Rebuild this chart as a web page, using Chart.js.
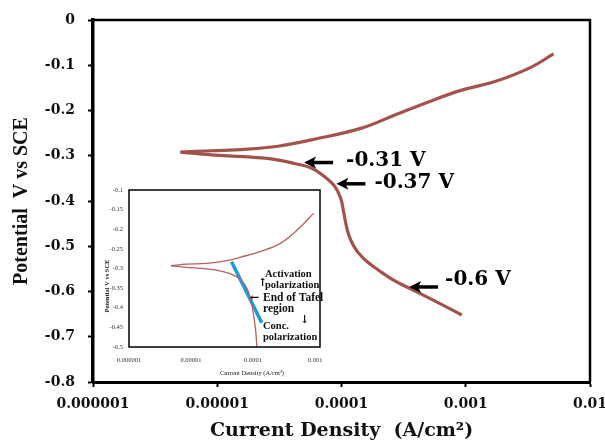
<!DOCTYPE html>
<html>
<head>
<meta charset="utf-8">
<script src="https://cdn.jsdelivr.net/npm/chart.js@4.4.1/dist/chart.umd.min.js"></script>
<style>
  html, body { margin: 0; padding: 0; background: #fff; }
  #wrap { position: relative; width: 605px; height: 441px; }
  #main { position: absolute; left: 0; top: 0; }
  #inset { position: absolute; left: 95px; top: 183px; }
</style>
</head>
<body>
<div id="wrap">
  <canvas id="main" width="605" height="441" style="width:605px;height:441px"></canvas>
  <canvas id="inset" width="240" height="200" style="width:240px;height:200px"></canvas>
</div>
<script>
// Main polarization curve (A/cm2, V vs SCE)
// anodic branch, starting at the corrosion potential tip
const anodicCurrent = [5.06e-6, 8.95e-6, 1.66e-5, 3.09e-5, 5.73e-5, 1.45e-4, 2.69e-4, 5.00e-4, 9.29e-4, 1.72e-3, 3.21e-3, 5.09e-3];
const anodicPotential = [-0.292, -0.289, -0.286, -0.279, -0.265, -0.239, -0.210, -0.181, -0.155, -0.136, -0.107, -0.075];
// cathodic branch, starting at the same tip
const cathodicCurrent = [5.06e-6, 8.95e-6, 1.65e-5, 2.72e-5, 4.18e-5, 5.73e-5, 7.29e-5, 8.79e-5, 9.82e-5, 1.04e-4, 1.09e-4, 1.15e-4, 1.24e-4, 1.37e-4, 1.62e-4, 1.99e-4, 2.62e-4, 3.47e-4, 5.83e-4, 9.29e-4];
const cathodicPotential = [-0.292, -0.298, -0.302, -0.307, -0.317, -0.327, -0.346, -0.367, -0.393, -0.424, -0.453, -0.477, -0.497, -0.515, -0.535, -0.553, -0.575, -0.592, -0.623, -0.652];

// arrows on the main curve
const markCurrent = [5.0e-5, 9.1e-5, 3.5e-4];
const markPotential = [-0.315, -0.362, -0.59];
const markLabels = ['-0.31 V', '-0.37 V', '-0.6 V'];

const xTicks = [1e-6, 1e-5, 1e-4, 1e-3, 1e-2];
const xTickLabels = ['0.000001', '0.00001', '0.0001', '0.001', '0.01'];

// Inset curve
const insetAnodicCurrent = [4.76e-6, 8.36e-6, 1.77e-5, 3.73e-5, 6.15e-5, 1.30e-4, 2.75e-4, 5.13e-4, 9.55e-4];
const insetAnodicPotential = [-0.293, -0.289, -0.287, -0.280, -0.2715, -0.257, -0.236, -0.202, -0.159];
const insetCathodicCurrent = [4.76e-6, 8.36e-6, 1.77e-5, 3.29e-5, 5.43e-5, 7.41e-5, 8.93e-5, 1.01e-4, 1.10e-4, 1.15e-4];
const insetCathodicPotential = [-0.293, -0.297, -0.301, -0.308, -0.321, -0.342, -0.372, -0.414, -0.457, -0.499];
const tafelCurrent = [4.5e-5, 1.38e-4];
const tafelPotential = [-0.283, -0.438];

const insetXTicks = [1e-6, 1e-5, 1e-4, 1e-3];
const insetXTickLabels = ['0.000001', '0.00001', '0.0001', '0.001'];

const pts = (xs, ys) => xs.map((x, i) => ({ x, y: ys[i] }));

const SERIF = '"DejaVu Serif", serif';
const TIMES = '"Liberation Serif", "Times New Roman", serif';

function branch(data, color, width) {
  return {
    data, borderColor: color, borderWidth: width, pointRadius: 0,
    tension: 0.4, fill: false
  };
}

function fixBox(w, h) {
  return (s) => {
    if (w != null) s.width = w;
    if (h != null) s.height = h;
    s.paddingLeft = s.paddingRight = s.paddingTop = s.paddingBottom = 0;
  };
}

function drawArrow(ctx, x, y, len) {
  ctx.beginPath();
  ctx.moveTo(x + 8, y);
  ctx.lineTo(x + len, y);
  ctx.lineWidth = 3.5;
  ctx.stroke();
  ctx.beginPath();
  ctx.moveTo(x, y);
  ctx.lineTo(x + 12, y - 6);
  ctx.lineTo(x + 9, y);
  ctx.lineTo(x + 12, y + 6);
  ctx.closePath();
  ctx.fill();
}

const mainExtras = {
  id: 'mainExtras',
  afterDraw(chart) {
    const { ctx, chartArea: a, scales } = chart;
    ctx.save();
    ctx.strokeStyle = '#000';
    ctx.lineWidth = 2.5;
    ctx.beginPath();
    ctx.moveTo(a.left, a.top);
    ctx.lineTo(a.right, a.top);
    ctx.lineTo(a.right, a.bottom);
    ctx.stroke();

    ctx.fillStyle = '#000';
    ctx.font = 'bold 20px ' + SERIF;
    ctx.textBaseline = 'middle';
    ctx.textAlign = 'left';
    const dy = [-2, -1, -7];
    const gap = [13, 9, 7];
    markLabels.forEach((t, i) => {
      const x = scales.x.getPixelForValue(markCurrent[i]);
      const y = scales.y.getPixelForValue(markPotential[i]);
      drawArrow(ctx, x, y, 29);
      ctx.fillText(t, x + 29 + gap[i], y + dy[i]);
    });
    ctx.restore();
  }
};

const anodic = pts(anodicCurrent, anodicPotential);
const cathodic = pts(cathodicCurrent, cathodicPotential);

new Chart(document.getElementById('main'), {
  type: 'line',
  data: {
    datasets: [
      branch(anodic, '#a3534e', 3.2),
      branch(cathodic, '#a3534e', 3.2),
      branch(anodic, '#dba6a1', 1),
      branch(cathodic, '#dba6a1', 1)
    ]
  },
  options: {
    responsive: false,
    animation: false,
    events: [],
    layout: { padding: { left: 0, top: 20, right: 15, bottom: 0 } },
    plugins: { legend: { display: false }, tooltip: { enabled: false } },
    scales: {
      x: {
        type: 'logarithmic',
        min: 1e-6,
        max: 1e-2,
        afterBuildTicks: (s) => { s.ticks = xTicks.map((v) => ({ value: v })); },
        afterFit: fixBox(null, 59),
        grid: { display: true, drawOnChartArea: false, drawTicks: true, tickLength: 5, tickWidth: 2, tickColor: '#000' },
        border: { display: true, color: '#000', width: 3 },
        ticks: {
          autoSkip: false, maxRotation: 0, padding: 9, color: '#111',
          font: { family: SERIF, weight: 'bold', size: 14 },
          callback: (v, i) => xTickLabels[i]
        },
        title: {
          display: true, text: 'Current Density  (A/cm²)', color: '#111',
          font: { family: SERIF, weight: 'bold', size: 19, lineHeight: 1 },
          padding: { top: 0, bottom: 0 }
        }
      },
      y: {
        min: -0.8,
        max: 0,
        afterFit: fixBox(93, null),
        grid: { display: true, drawOnChartArea: false, drawTicks: true, tickLength: 5, tickWidth: 2, tickColor: '#000' },
        border: { display: true, color: '#000', width: 3.5 },
        ticks: {
          stepSize: 0.1, padding: 13, color: '#111',
          font: { family: SERIF, weight: 'bold', size: 14 },
          callback: (v) => (Math.abs(v) < 1e-9 ? '0' : v.toFixed(1))
        },
        title: {
          display: true, text: 'Potential  V vs SCE', color: '#111',
          font: { family: TIMES, weight: 'bold', size: 20, lineHeight: 1 },
          padding: { top: 12, bottom: 0 }
        }
      }
    }
  },
  plugins: [mainExtras]
});

const insetExtras = {
  id: 'insetExtras',
  afterDraw(chart) {
    const { ctx, chartArea: a } = chart;
    ctx.save();
    ctx.strokeStyle = '#000';
    ctx.lineWidth = 1.5;
    ctx.strokeRect(a.left, a.top, a.right - a.left, a.bottom - a.top);

    ctx.fillStyle = '#222';
    ctx.textBaseline = 'middle';
    ctx.textAlign = 'center';
    ctx.font = '6.5px ' + TIMES;
    ctx.fillText('Current Density (A/cm²)', a.left + 123, a.bottom + 26);
    ctx.save();
    ctx.translate(a.left - 22, a.top + 96);
    ctx.rotate(-Math.PI / 2);
    ctx.font = 'bold 6.5px ' + TIMES;
    ctx.fillText('Potential V vs SCE', 0, 0);
    ctx.restore();

    ctx.fillStyle = '#111';
    ctx.textAlign = 'left';
    const L = a.left;
    const T = a.top;
    ctx.font = 'bold 10.5px ' + TIMES;
    ctx.fillText('Activation', L + 136, T + 84);
    ctx.fillText('polarization', L + 136, T + 95);
    ctx.font = 'bold 11.5px ' + TIMES;
    ctx.fillText('End of Tafel', L + 134, T + 108);
    ctx.fillText('region', L + 134, T + 119);
    ctx.font = 'bold 10.5px ' + TIMES;
    ctx.fillText('Conc.', L + 134, T + 136);
    ctx.fillText('polarization', L + 134, T + 147);
    ctx.font = 'bold 11px ' + SERIF;
    ctx.fillText('↑', L + 129, T + 93);
    ctx.fillText('←', L + 121, T + 108);
    ctx.fillText('↓', L + 171, T + 130);
    ctx.restore();
  }
};

new Chart(document.getElementById('inset'), {
  type: 'line',
  data: {
    datasets: [
      branch(pts(insetAnodicCurrent, insetAnodicPotential), '#b4625c', 1.3),
      branch(pts(insetCathodicCurrent, insetCathodicPotential), '#b4625c', 1.3),
      {
        data: pts(tafelCurrent, tafelPotential),
        borderColor: '#1c9ad9',
        borderWidth: 3.5,
        pointRadius: 0,
        fill: false
      }
    ]
  },
  options: {
    responsive: false,
    animation: false,
    events: [],
    layout: { padding: { left: 0, top: 7, right: 15, bottom: 0 } },
    plugins: { legend: { display: false }, tooltip: { enabled: false } },
    scales: {
      x: {
        type: 'logarithmic',
        min: 1e-6,
        max: 1.2e-3,
        afterBuildTicks: (s) => { s.ticks = insetXTicks.map((v) => ({ value: v })); },
        afterFit: fixBox(null, 36),
        grid: { display: true, drawOnChartArea: false, drawTicks: false },
        border: { display: false },
        ticks: {
          autoSkip: false, maxRotation: 0, padding: 9, color: '#333',
          font: { family: TIMES, size: 6.5 },
          callback: (v, i) => insetXTickLabels[i]
        }
      },
      y: {
        min: -0.5,
        max: -0.1,
        afterFit: fixBox(34, null),
        grid: { display: true, drawOnChartArea: false, drawTicks: false },
        border: { display: false },
        ticks: {
          stepSize: 0.05, padding: 6, color: '#333',
          font: { family: TIMES, size: 6.5 },
          callback: (v) => String(Number(v.toFixed(2)))
        }
      }
    }
  },
  plugins: [insetExtras]
});
</script>
</body>
</html>
